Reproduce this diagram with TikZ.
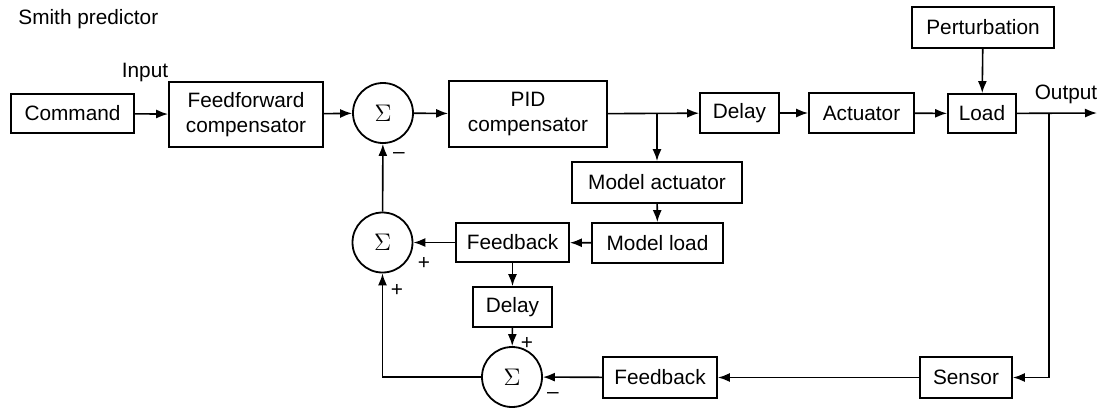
\documentclass[tikz,border=0pt]{standalone}
\usepackage{fontspec}
\setmainfont{Liberation Sans}
\usetikzlibrary{arrows.meta}
\tikzset{
  blk/.style 2 args={draw, line width=0.9pt, inner sep=0pt, align=center,
    minimum width=#1*0.5pt, minimum height=#2*0.5pt},
  sumnode/.style={draw, circle, line width=0.9pt, inner sep=0pt,
    minimum size=30pt, font=\large},
  sig/.style={inner sep=0pt},
  flow/.style={line width=0.8pt, -{Latex[length=6pt,width=4.5pt]}},
  wire/.style={line width=0.8pt}
}
\begin{document}
\begin{tikzpicture}[x=0.5pt, y=-0.5pt, font=\fontsize{10.4}{12.5}\selectfont]
\useasboundingbox (0,0) rectangle (1100,408);
% forward path
\node[sig, anchor=west] (title) at (18,19) {Smith predictor};
\node[blk={123}{39}] (cmd) at (72.5,113.5) {Command};
\node[blk={154}{65}] (ffc) at (246,114.5) {Feedforward\\compensator};
\node[sig] (inlbl) at (145,72) {Input};
\node[sumnode] (sumA) at (383,113) {$\Sigma$};
\node[blk={158}{66}] (pid) at (528,114) {PID\\compensator};
\node[blk={79}{40}] (dly) at (739.5,113) {Delay};
\node[blk={105}{40}] (act) at (861.5,113) {Actuator};
\node[blk={68}{39}] (load) at (982,113.5) {Load};
\node[blk={142}{41}] (pert) at (983,27.5) {Perturbation};
\node[sig] (outlbl) at (1066,94) {Output};
\coordinate (br) at (657,113);
\coordinate (obr) at (1049,113);
\coordinate (oend) at (1097,113);
% model path
\node[blk={170}{41}] (mact) at (657,182.5) {Model actuator};
\node[blk={131}{40}] (mload) at (657.5,243) {Model load};
\node[blk={113}{39}] (fbm) at (512.5,242.5) {Feedback};
\node[sumnode] (sumB) at (382.5,242.5) {$\Sigma$};
\node[blk={79}{40}] (dlyB) at (512.5,307) {Delay};
\node[sumnode] (sumC) at (512,377) {$\Sigma$};
% measured path
\node[blk={114}{41}] (fbl) at (660,377.5) {Feedback};
\node[blk={92}{41}] (sens) at (966,377.5) {Sensor};
% signs
\node[sig] (mA) at (399,156) {--};
\node[sig] (pB1) at (424,263) {+};
\node[sig] (pB2) at (397,290) {+};
\node[sig] (pC) at (527,343) {+};
\node[sig] (mC) at (553,396) {--};
% connectors
\draw[flow] (cmd) -- (ffc);
\draw[flow] (ffc) -- (sumA);
\draw[flow] (sumA) -- (pid);
\draw[flow] (pid) -- (dly);
\draw[flow] (br) -- (mact);
\draw[flow] (dly) -- (act);
\draw[flow] (act) -- (load);
\draw[flow] (pert) -- (load);
\draw[flow] (load) -- (oend);
\draw[flow] (obr) |- (sens);
\draw[flow] (sens) -- (fbl);
\draw[flow] (fbl) -- (sumC);
\draw[flow] (mact) -- (mload);
\draw[flow] (mload) -- (fbm);
\draw[flow] (fbm) -- (sumB);
\draw[flow] (fbm) -- (dlyB);
\draw[flow] (dlyB) -- (sumC);
\draw[flow] (sumC) -| (sumB);
\draw[flow] (sumB) -- (sumA);
\end{tikzpicture}
\end{document}
